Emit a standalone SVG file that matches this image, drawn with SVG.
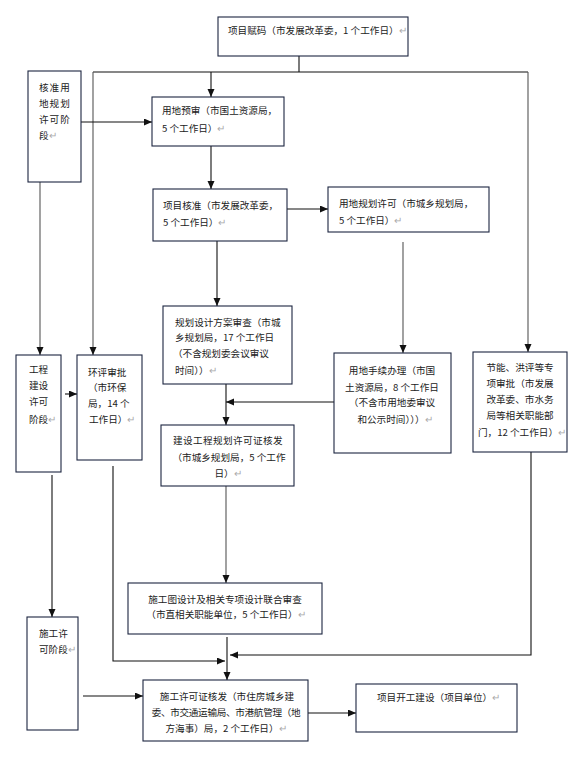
<svg xmlns="http://www.w3.org/2000/svg" width="585" height="758" viewBox="0 0 585 758">
<style>
.box{fill:#fff;stroke:#1c2540;stroke-width:1.1}
.t{font-family:"Noto Sans CJK SC","Liberation Sans",sans-serif;font-size:9.6px;fill:#222}
.m{text-anchor:middle}
.r{fill:#aaa}
.c{fill:none;stroke:#111;stroke-width:1.1}
.g{fill:none;stroke:#555;stroke-width:1.1}
</style>
<defs>
<marker id="a" markerUnits="userSpaceOnUse" markerWidth="9" markerHeight="8" refX="8" refY="3.5" orient="auto">
<path d="M0,0 L8,3.5 L0,7 z" fill="#111"/>
</marker>
</defs>
<rect width="585" height="758" fill="#fff"/>
<g id="connectors">
<path class="c" d="M299,56 V72 M93,72 H528"/>
<path class="c" d="M211,72 V97" marker-end="url(#a)"/>
<path class="g" d="M93,72 V355" marker-end="url(#a)"/>
<path class="g" d="M528,72 V352" marker-end="url(#a)"/>
<path class="c" d="M81,122 H152" marker-end="url(#a)"/>
<path class="c" d="M211,146 V189" marker-end="url(#a)"/>
<path class="g" d="M40,182 V355" marker-end="url(#a)"/>
<path class="c" d="M287,209 H328" marker-end="url(#a)"/>
<path class="c" d="M217,241 V306" marker-end="url(#a)"/>
<path class="g" d="M403,242 V353" marker-end="url(#a)"/>
<path class="c" d="M226,384 V425" marker-end="url(#a)"/>
<path class="c" d="M334,402 H226" marker-end="url(#a)"/>
<path class="c" d="M65,394 H77" marker-end="url(#a)"/>
<path class="c" d="M52,475 V617" marker-end="url(#a)"/>
<path class="c" d="M113,466 V661 H225" marker-end="url(#a)"/>
<path class="g" d="M226,486 V583" marker-end="url(#a)"/>
<path class="c" d="M227,637 V680" marker-end="url(#a)"/>
<path class="c" d="M531,452 V655 H230" marker-end="url(#a)"/>
<path class="c" d="M83,696 H143" marker-end="url(#a)"/>
<path class="c" d="M308,713 H356" marker-end="url(#a)"/>
</g>
<g id="n1"><rect class="box" x="218" y="17" width="190" height="39"/>
<text class="t" x="228" y="34">项目赋码（市发展改革委，1 个工作日）<tspan class="r">↵</tspan></text></g>
<g id="n2"><rect class="box" x="28" y="71" width="53" height="111"/>
<text class="t" x="39" y="91" letter-spacing="1">核准用</text>
<text class="t" x="39" y="107" letter-spacing="1">地规划</text>
<text class="t" x="39" y="123" letter-spacing="1">许可阶</text>
<text class="t" x="39" y="139">段<tspan class="r">↵</tspan></text></g>
<g id="n3"><rect class="box" x="152" y="97" width="132" height="49"/>
<text class="t" x="162" y="114">用地预审（市国土资源局，</text>
<text class="t" x="162" y="132">5 个工作日）<tspan class="r">↵</tspan></text></g>
<g id="n4"><rect class="box" x="153" y="189" width="134" height="52"/>
<text class="t" x="163" y="209">项目核准（市发展改革委，</text>
<text class="t" x="163" y="226">5 个工作日）<tspan class="r">↵</tspan></text></g>
<g id="n5"><rect class="box" x="328" y="187" width="161" height="45"/>
<text class="t" x="339" y="207">用地规划许可（市城乡规划局，</text>
<text class="t" x="339" y="224">5 个工作日）<tspan class="r">↵</tspan></text></g>
<g id="n6"><rect class="box" x="163" y="306" width="129" height="78"/>
<text class="t" x="175" y="326">规划设计方案审查（市城</text>
<text class="t" x="175" y="341">乡规划局，17 个工作日</text>
<text class="t" x="173" y="357">（不含规划委会议审议</text>
<text class="t" x="175" y="374">时间））<tspan class="r">↵</tspan></text></g>
<g id="n7"><rect class="box" x="334" y="353" width="117" height="100"/>
<text class="t m" x="392" y="374">用地手续办理（市国</text>
<text class="t m" x="392" y="391">土资源局，8 个工作日</text>
<text class="t m" x="392" y="406">（不含市用地委审议</text>
<text class="t m" x="395" y="423">和公示时间）））<tspan class="r">↵</tspan></text></g>
<g id="n8"><rect class="box" x="473" y="352" width="94" height="100"/>
<text class="t m" x="520" y="371">节能、洪评等专</text>
<text class="t m" x="520" y="387">项审批（市发展</text>
<text class="t m" x="520" y="403">改革委、市水务</text>
<text class="t m" x="520" y="419">局等相关职能部</text>
<text class="t m" x="522" y="436">门，12 个工作日）<tspan class="r">↵</tspan></text></g>
<g id="n9"><rect class="box" x="16" y="355" width="45" height="117"/>
<text class="t" x="29" y="373">工程</text>
<text class="t" x="29" y="389">建设</text>
<text class="t" x="29" y="405">许可</text>
<text class="t" x="29" y="423">阶段<tspan class="r">↵</tspan></text></g>
<g id="n10"><rect class="box" x="77" y="355" width="65" height="105"/>
<text class="t" x="88" y="376">环评审批</text>
<text class="t" x="88" y="391">（市环保</text>
<text class="t" x="88" y="407">局，14 个</text>
<text class="t" x="89" y="423">工作日）<tspan class="r">↵</tspan></text></g>
<g id="n11"><rect class="box" x="161" y="425" width="133" height="61"/>
<text class="t m" x="228" y="444" letter-spacing="0.4">建设工程规划许可证核发</text>
<text class="t m" x="229" y="461">（市城乡规划局，5 个工作</text>
<text class="t m" x="228" y="477">日）<tspan class="r">↵</tspan></text></g>
<g id="n12"><rect class="box" x="128" y="583" width="194" height="51"/>
<text class="t m" x="225" y="603">施工图设计及相关专项设计联合审查</text>
<text class="t m" x="226" y="618">（市直相关职能单位，5 个工作日）<tspan class="r">↵</tspan></text></g>
<g id="n13"><rect class="box" x="27" y="617" width="51" height="113"/>
<text class="t" x="39" y="637">施工许</text>
<text class="t" x="39" y="653">可阶段<tspan class="r">↵</tspan></text></g>
<g id="n14"><rect class="box" x="143" y="680" width="165" height="61"/>
<text class="t m" x="227" y="700">施工许可证核发（市住房城乡建</text>
<text class="t m" x="226" y="716" letter-spacing="-0.3">委、市交通运输局、市港航管理（地</text>
<text class="t m" x="226" y="732">方海事）局，2 个工作日）<tspan class="r">↵</tspan></text></g>
<g id="n15"><rect class="box" x="356" y="684" width="161" height="48"/>
<text class="t" x="377" y="701">项目开工建设（项目单位）<tspan class="r">↵</tspan></text></g>
</svg>
